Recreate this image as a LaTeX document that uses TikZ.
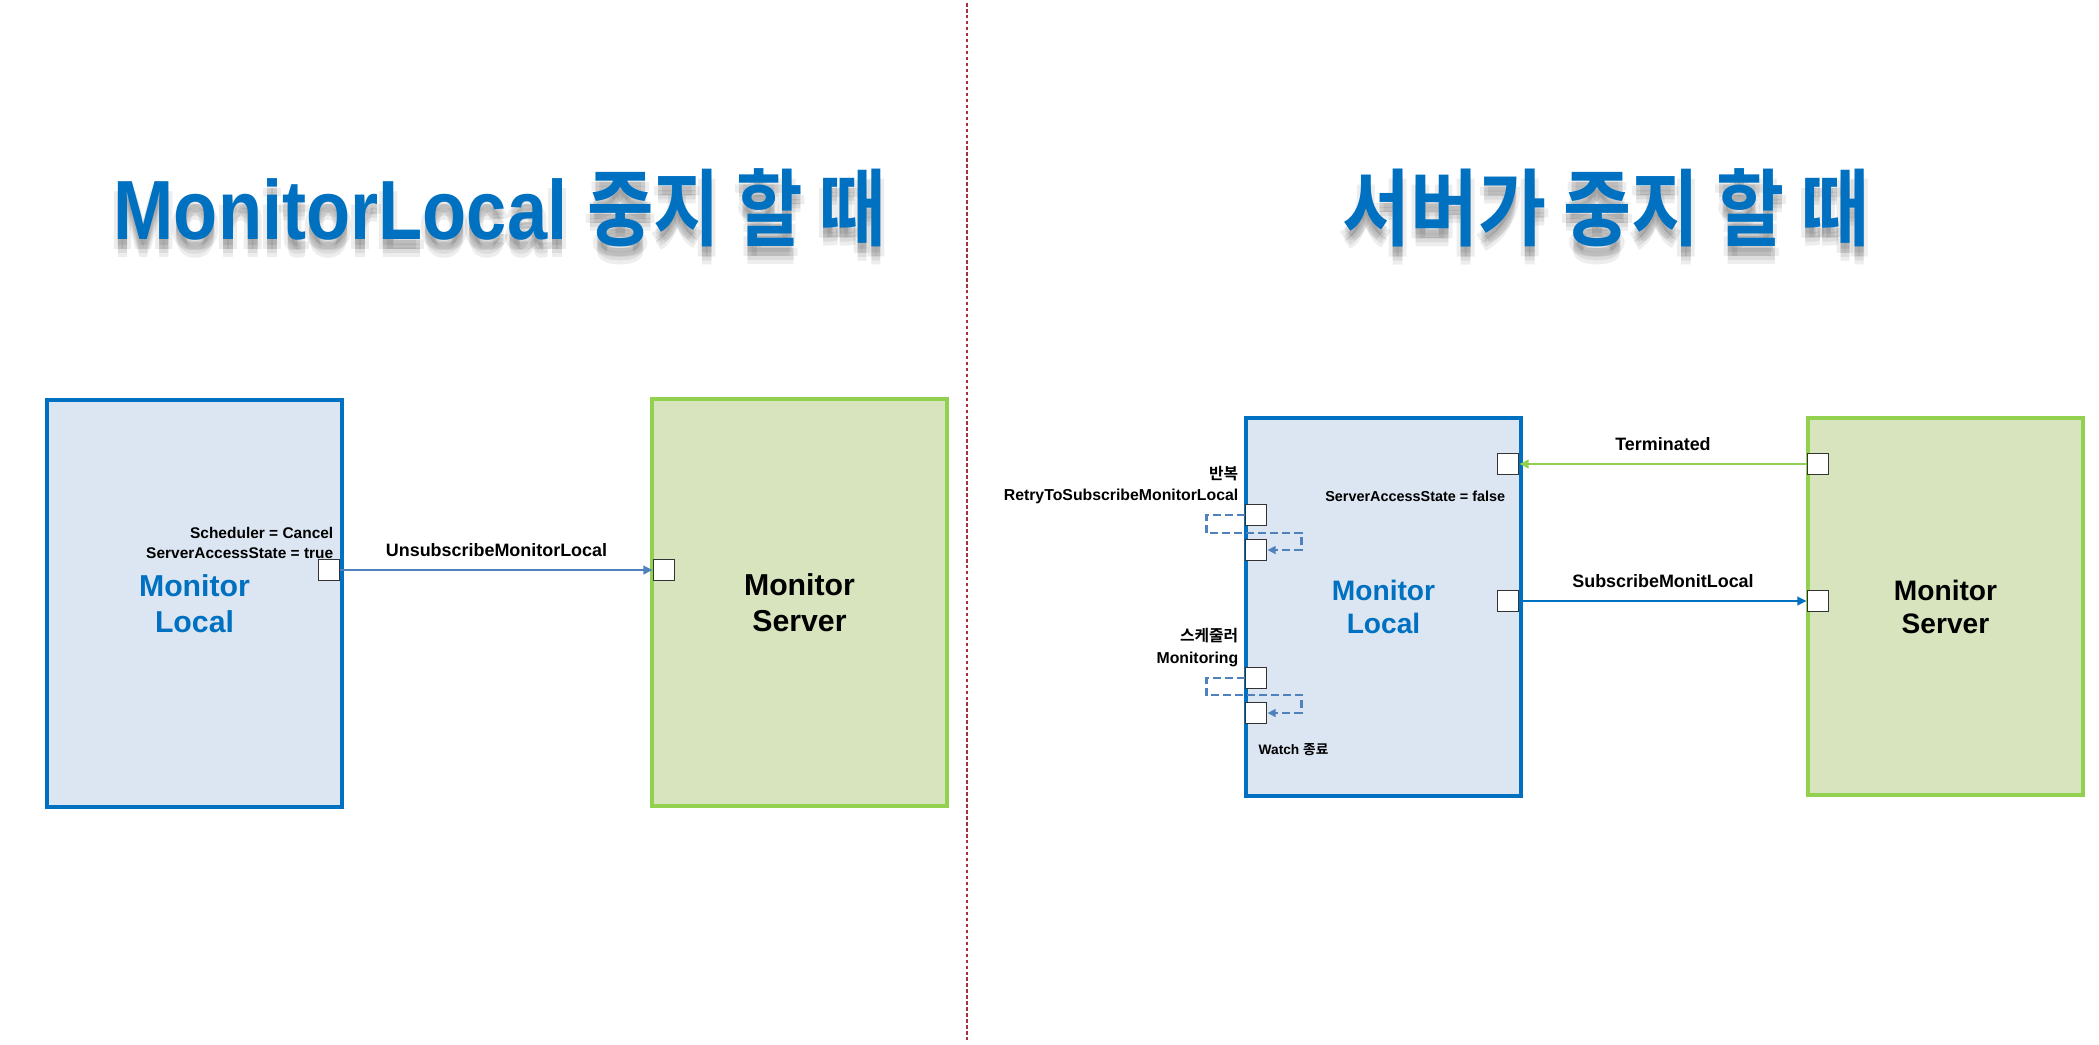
\documentclass[tikz,border=0pt]{standalone}
\usepackage{fontspec}
\setmainfont{Liberation Sans}
\newfontfamily\krfont{Noto Sans CJK KR}[BoldFont={Noto Sans CJK KR Bold}]
\usetikzlibrary{arrows.meta,positioning,calc}
\definecolor{cLoc}{HTML}{0070C0}
\definecolor{cLocFill}{HTML}{DCE6F2}
\definecolor{cSrv}{HTML}{92D050}
\definecolor{cSrvFill}{HTML}{D7E4BD}
\definecolor{cArr}{HTML}{4F81BD}
\definecolor{cDiv}{HTML}{A8323A}
\tikzset{
  box/.style={draw=#1,line width=1.15pt,minimum width=2.95cm,minimum height=4.07cm,align=center,font=\fontsize{8.6}{10.2}\selectfont\bfseries},
  locbox/.style={box=cLoc,fill=cLocFill,text=cLoc},
  srvbox/.style={box=cSrv,fill=cSrvFill,text=black},
  port/.style={draw=black!80,fill=white,line width=0.55pt,minimum size=0.21cm,inner sep=0pt},
  flow/.style={-{Triangle[length=2.6pt,width=2.4pt]},line width=0.8pt,draw=#1},
  msg/.style={font=\fontsize{5.1}{6}\selectfont\bfseries,inner sep=0pt},
  note/.style={font=\fontsize{4.5}{6.1}\selectfont\bfseries,inner sep=0pt,align=right},
  loopback/.style={draw=cArr,line width=0.65pt,dash pattern=on 2.2pt off 1.2pt,-{Triangle[length=2.3pt,width=2.2pt]}},
  headline/.style={font=\fontsize{23.9}{28}\selectfont\bfseries,text=cLoc,inner sep=0pt,anchor=base},
  headshade/.style={headline,text=black,opacity=0.07},
  divider/.style={draw=cDiv,line width=0.75pt,dash pattern=on 1pt off 0.7pt}
}

\begin{document}
\begin{tikzpicture}[x=0.01cm,y=-0.01cm]
    \useasboundingbox[fill=white] (0,0) rectangle (2099,1044);

    % Titles
    \foreach \dx/\dy [count=\i] in {0/6,0/10,0/14,-4/10,4/10,0/18}{
      \node[headshade] (shA\i) at (500+\dx,239+\dy) {\scalebox{0.86}[1]{MonitorLocal {\krfont 중지 할 때}}};
      \node[headshade] (shB\i) at (1606+\dx,239+\dy) {\scalebox{0.88}[1]{\krfont 서버가 중지 할 때}};
    }
    \node[headline] (ttlA) at (500,239) {\scalebox{0.86}[1]{MonitorLocal {\krfont 중지 할 때}}};
    \node[headline] (ttlB) at (1606,239) {\scalebox{0.88}[1]{\krfont 서버가 중지 할 때}};

    \draw[divider] (967,3) -- (967,1040);

    % Nodes (left)
    \node[locbox] (locA) at (194.5,603.5) {Monitor\\Local};
    \node[srvbox] (srvA) at (799.5,602.5) {Monitor\\Server};
    \node[port] (pA1) at (329,570) {};
    \node[port] (pA2) at (664,570) {};
    \node[note,anchor=south east,font=\fontsize{4.4}{5.7}\selectfont\bfseries] (stA) at (334,559) {Scheduler = Cancel\\ServerAccessState = true};

    % Nodes (right)
    \node[locbox,minimum width=2.75cm,minimum height=3.78cm,font=\fontsize{8}{9.4}\selectfont\bfseries] (locB) at (1383.5,607) {Monitor\\Local};
    \node[srvbox,minimum width=2.75cm,minimum height=3.77cm,font=\fontsize{8}{9.4}\selectfont\bfseries] (srvB) at (1945.5,606.5) {Monitor\\Server};
    \node[port] (pB1) at (1508,464) {};
    \node[port] (pB2) at (1508,601) {};
    \node[port] (pS1) at (1818,464) {};
    \node[port] (pS2) at (1818,601) {};
    \node[port] (pL1) at (1256,515) {};
    \node[port] (pL2) at (1256,550) {};
    \node[port] (pL3) at (1256,678) {};
    \node[port] (pL4) at (1256,713) {};
    \node[note,anchor=east] (rtyB) at (1239,485) {{\krfont 반복}\\RetryToSubscribeMonitorLocal};
    \node[note,anchor=east] (schB) at (1239,647.5) {{\krfont 스케줄러}\\Monitoring};
    \node[note,anchor=west,font=\fontsize{3.9}{5}\selectfont\bfseries] (wchB) at (1258,750) {Watch {\krfont 종료}};
    \node[note,anchor=east,font=\fontsize{4.1}{5}\selectfont\bfseries] (sasB) at (1506,496) {ServerAccessState = false};

    % Paths
    \draw[flow=cArr] (pA1) -- node[msg,above=3.3pt] (msgA) {UnsubscribeMonitorLocal} (pA2);
    \draw[flow=cSrv] (pS1) -- node[msg,above=3.3pt] (msgT) {Terminated} (pB1);
    \draw[flow=cLoc] (pB2) -- node[msg,above=3.3pt] (msgS) {SubscribeMonitLocal} (pS2);
    \draw[loopback] (pL1.west) -- ++(-38,0) -- ++(0,18) -- ++(95,0) |- (pL2.east);
    \draw[loopback] (pL3.west) -- ++(-38,0) -- ++(0,17) -- ++(95,0) |- (pL4.east);
  \end{tikzpicture}
\end{document}
